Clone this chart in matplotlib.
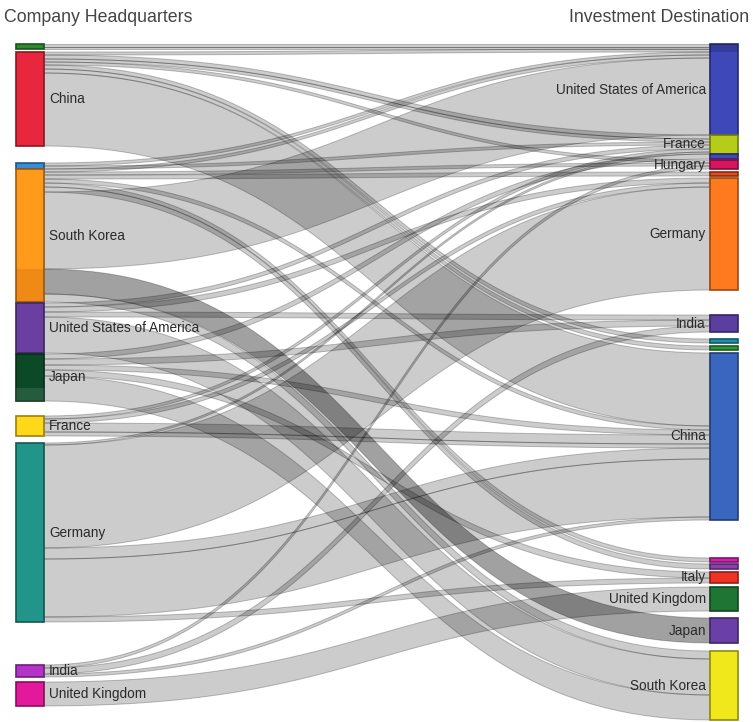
import matplotlib
matplotlib.use("Agg")
import matplotlib.pyplot as plt
from matplotlib.patches import Rectangle, Polygon
import numpy as np

plt.rcParams['font.family'] = ['Liberation Sans', 'DejaVu Sans']

# --- data -------------------------------------------------------------
left_names = ["", "China", "", "South Korea", "United States of America",
              "Japan", "France", "Germany", "India", "United Kingdom"]
right_names = ["United States of America", "France", "", "Hungary", "", "Germany",
               "India", "", "", "China", "", "", "Italy", "United Kingdom",
               "Japan", "South Korea"]

# one entry per investment flow (headquarters -> destination)
link_source = [0, 0,
               1, 1, 1, 1, 1, 1, 1,
               2, 2,
               3, 3, 3, 3, 3, 3, 3, 3, 3,
               4, 4, 4, 4,
               5, 5, 5, 5, 5,
               6, 6, 6, 6,
               7, 7, 7, 7, 7,
               8, 8, 8,
               9]
link_target = [0, 0,
               0, 1, 1, 3, 7, 8, 9,
               0, 1,
               0, 3, 4, 9, 10, 11, 0, 14, 15,
               1, 5, 6, 15,
               2, 6, 9, 12, 15,
               1, 5, 9, 9,
               1, 5, 9, 9, 12,
               3, 6, 9,
               13]
link_value = [3, 2,
              3, 4, 3, 3, 4, 4, 73,
              3, 3,
              3, 3, 4, 4, 4, 5, 77, 25, 8,
              4, 5, 5, 36,
              5, 6, 5, 6, 25,
              3, 4, 9, 4,
              2, 103, 11, 58, 5,
              3, 6, 3,
              24]

# --- layout / style ---------------------------------------------------
left_gap = [44, 3, 17, 0, 1, 1, 15, 7, 43, 5]
right_gap = [44, 0, 0, 1, 3, 2, 25, 7, 3, 3, 38, 2, 3, 4, 7, 8]
left_colors = ["#2b8a2b", "#e8273e", "#3a8dd4", "#ff9a1a", "#6b3fa0",
               "#0c4a27", "#ffd81a", "#21958a", "#b533c8", "#e3189a"]
right_colors = ["#3f48b8", "#b5cc18", "#4048b8", "#d9145f", "#e84a1a", "#ff7a1f",
                "#5a3fa0", "#1f93a8", "#2e9a2e", "#3b66c0", "#d420b0", "#8e3fb0",
                "#f03225", "#1f7533", "#6a3fa8", "#f0e81a"]
dark_links = {18}           # South Korea -> Japan band drawn darker
x_left, x_right, node_w = 16, 710, 28


def darker(c, f=0.6):
    r, g, b = matplotlib.colors.to_rgb(c)
    return (r * f, g * f, b * f)


# node sizes from flows
n_left, n_right = len(left_names), len(right_names)
left_size = [sum(v for s, v in zip(link_source, link_value) if s == i) for i in range(n_left)]
right_size = [sum(v for t, v in zip(link_target, link_value) if t == i) for i in range(n_right)]

left_top, y = [], 0
for gap, size in zip(left_gap, left_size):
    y += gap
    left_top.append(y)
    y += size
right_top, y = [], 0
for gap, size in zip(right_gap, right_size):
    y += gap
    right_top.append(y)
    y += size

# stack links at source (list order) and at target (by source position)
src_y0 = {}
offs = list(left_top)
for k, (s, v) in enumerate(zip(link_source, link_value)):
    src_y0[k] = offs[s]
    offs[s] += v
tgt_y0 = {}
offs = list(right_top)
for k in sorted(range(len(link_value)), key=lambda k: src_y0[k]):
    t = link_target[k]
    tgt_y0[k] = offs[t]
    offs[t] += link_value[k]

fig = plt.figure(figsize=(7.53, 7.22), dpi=100)
ax = fig.add_axes([0, 0, 1, 1])
ax.set_xlim(0, 753)
ax.set_ylim(722, 0)
ax.axis('off')

t = np.linspace(0, 1, 60)
x0, x1 = x_left + node_w, x_right
xs = x0 + (x1 - x0) * (1.5 * t * (1 - t) + t ** 3)
ease = 3 * t ** 2 - 2 * t ** 3
for k, v in enumerate(link_value):
    a0, b0 = src_y0[k], tgt_y0[k]
    top = a0 + (b0 - a0) * ease
    bot = top + v
    pts = np.vstack([np.column_stack([xs, top]), np.column_stack([xs[::-1], bot[::-1]])])
    alpha = 0.37 if k in dark_links else 0.2
    ax.add_patch(Polygon(pts, closed=True, facecolor=(0, 0, 0, alpha),
                         edgecolor=(0, 0, 0, 0.24), lw=0.7, zorder=1))

for i in range(n_left):
    c = left_colors[i]
    ax.add_patch(Rectangle((x_left, left_top[i]), node_w, left_size[i], facecolor=c,
                           edgecolor=darker(c), lw=1.2, zorder=3))
    if left_names[i]:
        ax.text(x_left + node_w + 5, left_top[i] + left_size[i] / 2, left_names[i],
                fontsize=9.8, color="#2a2a2a", ha="left", va="center", zorder=5)
for i in range(n_right):
    c = right_colors[i]
    ax.add_patch(Rectangle((x_right, right_top[i]), node_w, right_size[i], facecolor=c,
                           edgecolor=darker(c), lw=1.2, zorder=3))
    if right_names[i]:
        ax.text(x_right - 4, right_top[i] + right_size[i] / 2, right_names[i],
                fontsize=9.8, color="#2a2a2a", ha="right", va="center", zorder=5)

# darker / lighter shades inside some nodes
for k in dark_links:
    s = link_source[k]
    ax.add_patch(Rectangle((x_left, src_y0[k]), node_w, left_top[s] + left_size[s] - src_y0[k],
                           facecolor=(0.6, 0.2, 0, 0.15), lw=0, zorder=4))
ax.add_patch(Rectangle((x_right, right_top[0]), node_w, 8,
                       facecolor=(0, 0, 0, 0.15), lw=0, zorder=4))
ax.add_patch(Rectangle((x_left, left_top[5] + left_size[5] - 13), node_w, 13,
                       facecolor=(1, 1, 1, 0.1), lw=0, zorder=4))

ax.text(4, 18, "Company Headquarters", fontsize=12.8, color="#444444", ha="left", va="center")
ax.text(749, 18, "Investment Destination", fontsize=12.8, color="#444444", ha="right", va="center")

fig.savefig("out.png", dpi=100)
